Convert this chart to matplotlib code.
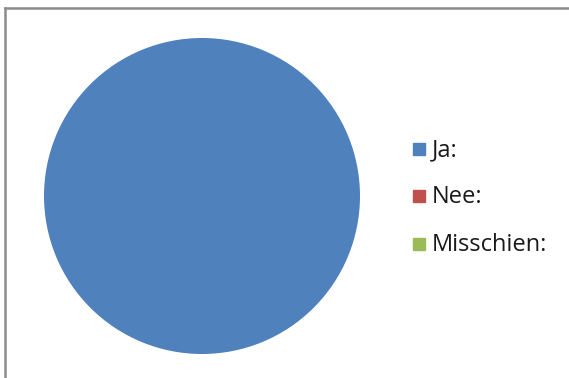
import matplotlib
matplotlib.use("Agg")
import matplotlib.pyplot as plt
from matplotlib.lines import Line2D

labels = ["Ja:", "Nee:", "Misschien:"]
values = [100, 0, 0]
colors = ["#4F81BD", "#C0504D", "#9BBB59"]

W, H = 569, 378
fig = plt.figure(figsize=(W / 100, H / 100), dpi=100)
fig.patch.set_facecolor("white")

# pie axes: center (202,196), radius 158 px
cx, cy, r = 202, 196, 158
ax = fig.add_axes([(cx - r) / W, 1 - (cy + r) / H, 2 * r / W, 2 * r / H])
ax.pie(values, colors=colors, startangle=90, counterclock=False,
       wedgeprops=dict(linewidth=0))
ax.set_aspect("auto")
ax.set_xlim(-1, 1)
ax.set_ylim(-1, 1)
ax.axis("off")

# border lines (top and left)
fig.add_artist(Line2D([5 / W, 1], [1 - 8 / H, 1 - 8 / H], color="#8C8C8C", lw=1.8,
                      transform=fig.transFigure))
fig.add_artist(Line2D([5 / W, 5 / W], [0, 1 - 8 / H], color="#8C8C8C", lw=1.8,
                      transform=fig.transFigure))

# legend
ys = [149, 196, 244]
for lab, col, y in zip(labels, colors, ys):
    fig.add_artist(plt.Rectangle((413 / W, 1 - (y + 6) / H), 12 / W, 12 / H,
                                 color=col, transform=fig.transFigure))
    fig.text(432 / W, 1 - (y + 1) / H, lab, fontsize=17, family="Open Sans",
             color="#1a1a1a", va="center", ha="left")

fig.savefig("out.png", dpi=100, facecolor="white")
